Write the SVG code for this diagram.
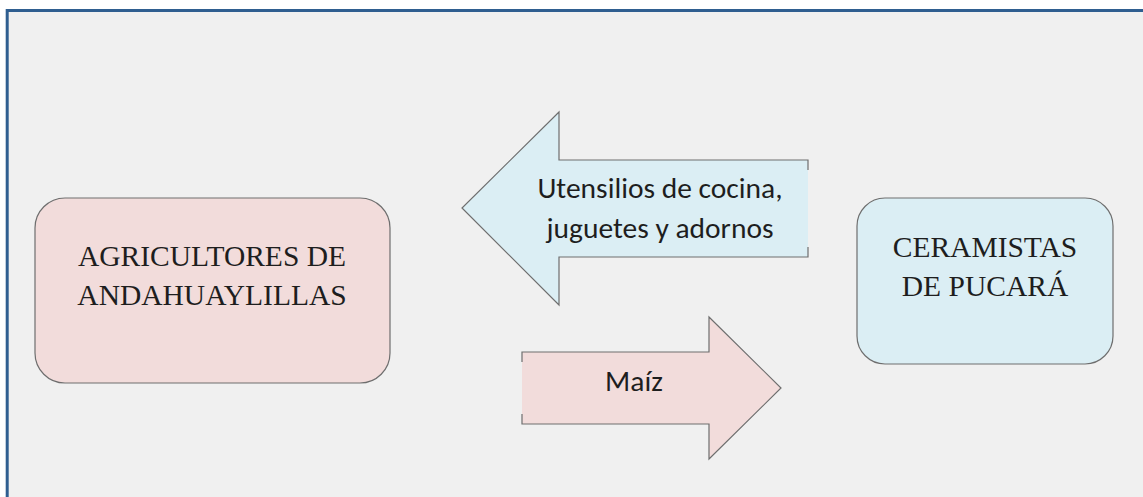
<svg xmlns="http://www.w3.org/2000/svg" width="1143" height="497" viewBox="0 0 1143 497">
<style>
.frame{fill:#f0f0f0;stroke:#2f5e90;stroke-width:3}
.pink{fill:#f2dcdb}
.blue{fill:#dbeef4}
.edge{fill:none;stroke:#6e6e6e;stroke-width:1.2}
.serif{font-family:"Liberation Serif","Times New Roman",serif;font-size:29.5px;fill:#1e1e1e;text-anchor:middle}
.sans{font-family:"Carlito","Liberation Sans",Arial,sans-serif;font-size:29.5px;fill:#1e1e1e;text-anchor:middle}
</style>
<rect x="0" y="0" width="1143" height="497" fill="#ffffff"/>
<rect class="frame" x="7.2" y="10.5" width="1300" height="600"/>
<g id="node-agricultores">
<rect class="pink" x="35" y="198" width="355" height="185" rx="30" ry="30" stroke="#6e6e6e" stroke-width="1.2"/>
<text class="serif" x="212" y="266">AGRICULTORES DE</text>
<text class="serif" x="212" y="305">ANDAHUAYLILLAS</text>
</g>
<g id="node-ceramistas">
<rect class="blue" x="857" y="198" width="256" height="166" rx="28" ry="28" stroke="#6e6e6e" stroke-width="1.2"/>
<text class="serif" x="985" y="257">CERAMISTAS</text>
<text class="serif" x="985" y="296">DE PUCARÁ</text>
</g>
<g id="connectors">
<g id="arrow-utensilios">
<path class="blue" d="M462,208 L559,112 L559,160 L808,160 L808,257 L559,257 L559,305 Z"/>
<path class="edge" d="M808,170 L808,160 L559,160 L559,112 L462,208 L559,305 L559,257 L808,257 L808,247"/>
<text class="sans" x="660" y="198">Utensilios de cocina,</text>
<text class="sans" x="660" y="238">juguetes y adornos</text>
</g>
<g id="arrow-maiz">
<path class="pink" d="M522,352 L709,352 L709,317 L781,388 L709,459 L709,424 L522,424 Z"/>
<path class="edge" d="M522,362 L522,352 L709,352 L709,317 L781,388 L709,459 L709,424 L522,424 L522,414"/>
<text class="sans" x="634" y="391">Maíz</text>
</g>
</g>
</svg>
